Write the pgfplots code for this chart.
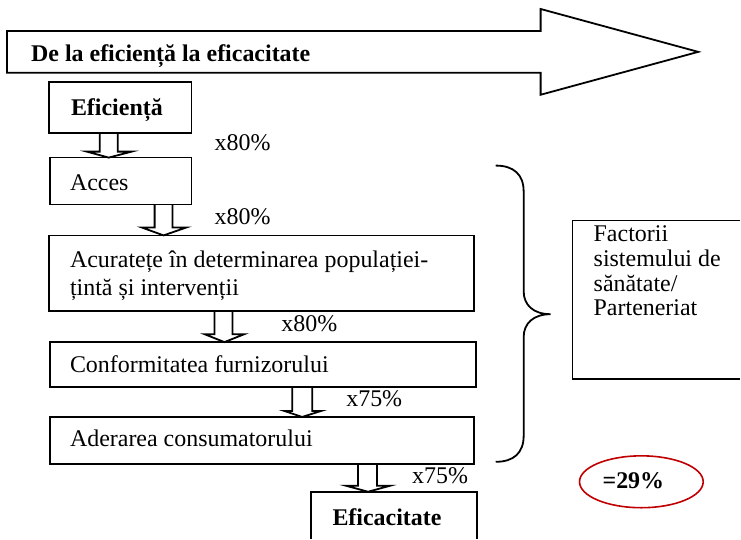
\documentclass[border=0pt]{standalone}
\usepackage{pgfplots}
\pgfplotsset{compat=1.18}
\usepackage{fontspec}
\setmainfont{Liberation Serif}
\definecolor{ovalred}{HTML}{C00000}
\newcommand\F{\fontsize{24}{28}\selectfont}
\begin{document}
\begin{tikzpicture}
\begin{axis}[x=1pt,y=1pt,xmin=0,xmax=741,ymin=0,ymax=539,y dir=reverse,
  hide axis,clip=false,
  shp/.style={black,solid,line width=1.8pt,mark=none,sharp plot}]
\path (axis cs:0,0) rectangle (axis cs:741,539);
% big arrow
\addplot[shp] coordinates {(7,31) (542,31) (542,9) (700,52) (542,95) (542,73) (7,73)} -- cycle;
% boxes
\addplot[shp] coordinates {(49,82) (192,82) (192,133) (49,133)} -- cycle;
\addplot[shp] coordinates {(50,158) (192,158) (192,205) (50,205)} -- cycle;
\addplot[shp] coordinates {(49,236) (475,236) (475,312) (49,312)} -- cycle;
\addplot[shp] coordinates {(50,343) (477,343) (477,388) (50,388)} -- cycle;
\addplot[shp] coordinates {(50,418) (475,418) (475,465) (50,465)} -- cycle;
\addplot[shp] coordinates {(312,540) (312,493) (478,493) (478,540)};
\addplot[shp] coordinates {(742,221) (574,221) (574,380) (742,380)};
% down arrows
\addplot[shp] coordinates {(100,133) (100,152) (87,152) (109,158) (132,152) (118,152) (118,133)};
\addplot[shp] coordinates {(155,205) (155,228) (142,228) (164,236) (187,228) (173,228) (173,205)};
\addplot[shp] coordinates {(215,312) (215,335) (205,335) (225,343) (245,335) (233,335) (233,312)};
\addplot[shp] coordinates {(293,388) (293,412) (285,412) (303,418) (322,412) (313,412) (313,388)};
\addplot[shp] coordinates {(359,465) (359,487) (347,487) (369,493) (391,487) (378,487) (378,465)};
% brace
\draw[line width=1.8pt] (axis cs:497,166) .. controls (axis cs:515,166) and (axis cs:525,175) .. (axis cs:525,192)
  -- (axis cs:525,292) .. controls (axis cs:525,306) and (axis cs:535,315) .. (axis cs:552,315)
  .. controls (axis cs:535,315) and (axis cs:525,324) .. (axis cs:525,338)
  -- (axis cs:525,437) .. controls (axis cs:525,454) and (axis cs:515,463) .. (axis cs:497,463);
% ellipse
\draw[ovalred,line width=1.6pt] (axis cs:643,483) ellipse [x radius=62, y radius=26];
% texts
\node[anchor=base west,inner sep=0,font=\F\bfseries] at (axis cs:31,62) {De la eficiență la eficacitate};
\node[anchor=base west,inner sep=0,font=\F\bfseries] at (axis cs:71,116) {Eficiență};
\node[anchor=base west,inner sep=0,font=\F] at (axis cs:70,191) {Acces};
\node[anchor=base west,inner sep=0,font=\F] at (axis cs:70,268) {Acuratețe în determinarea populației-};
\node[anchor=base west,inner sep=0,font=\F] at (axis cs:70,296) {țintă și intervenții};
\node[anchor=base west,inner sep=0,font=\F] at (axis cs:70,373) {Conformitatea furnizorului};
\node[anchor=base west,inner sep=0,font=\F] at (axis cs:70,448) {Aderarea consumatorului};
\node[anchor=base,inner sep=0,font=\F\bfseries] at (axis cs:388,527) {Eficacitate};
\node[anchor=base,inner sep=0,font=\F\bfseries] at (axis cs:635,490) {=29\%};
\node[anchor=base west,inner sep=0,font=\F] at (axis cs:215,151) {x80\%};
\node[anchor=base west,inner sep=0,font=\F] at (axis cs:215,225) {x80\%};
\node[anchor=base west,inner sep=0,font=\F] at (axis cs:282,332) {x80\%};
\node[anchor=base west,inner sep=0,font=\F] at (axis cs:347,408) {x75\%};
\node[anchor=base west,inner sep=0,font=\F] at (axis cs:413,485) {x75\%};
\node[anchor=base west,inner sep=0,font=\F] at (axis cs:595,242) {Factorii};
\node[anchor=base west,inner sep=0,font=\F] at (axis cs:595,267) {sistemului de};
\node[anchor=base west,inner sep=0,font=\F] at (axis cs:595,292) {sănătate/};
\node[anchor=base west,inner sep=0,font=\F] at (axis cs:595,316) {Parteneriat};
\end{axis}
\end{tikzpicture}
\end{document}
